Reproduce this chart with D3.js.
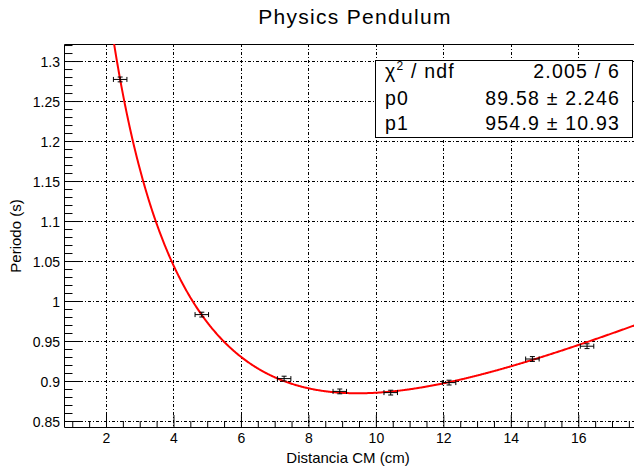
<!DOCTYPE html>
<html>
<head>
<meta charset="utf-8">
<script src="https://cdn.jsdelivr.net/npm/d3@7"></script>
<style>
  body { margin: 0; background: #fff; }
  text { font-family: "Liberation Sans", Arial, sans-serif; fill: #000; }
</style>
</head>
<body>
<div id="chart"></div>
<script>
var svgWidth = 634;
var svgHeight = 467;

// measured data points (distance from CM, period) with errors
var distCM = [2.42, 4.84, 7.28, 8.93, 10.44, 12.17, 14.64, 16.26];
var period = [1.277, 0.983, 0.903, 0.887, 0.8855, 0.898, 0.9275, 0.9435];
var distErr = [0.2, 0.2, 0.2, 0.2, 0.2, 0.2, 0.2, 0.2];
var periodErr = [0.003, 0.003, 0.003, 0.003, 0.003, 0.003, 0.003, 0.003];

// fit results shown in the stats box
var p0 = 89.58;
var p1 = 954.9;
var statNames = ["p0", "p1"];
var statValues = ["89.58 \u00b1 2.246", "954.9 \u00b1 10.93"];
var chiText = "2.005 / 6";

var xTicks = [2, 4, 6, 8, 10, 12, 14, 16];
var yTicks = [0.85, 0.9, 0.95, 1, 1.05, 1.1, 1.15, 1.2, 1.25, 1.3];

var plot = { left: 64, top: 44, right: 639, bottom: 427 };

var svg = d3.select("#chart")
    .append("svg")
    .attr("width", svgWidth)
    .attr("height", svgHeight);

var xScale = d3.scaleLinear()
    .domain([0.755, 17.8])
    .range([plot.left, plot.right]);
var yScale = d3.scaleLinear()
    .domain([0.8425, 1.3213])
    .range([plot.bottom, plot.top]);

svg.append("defs").append("clipPath")
    .attr("id", "clip")
    .append("rect")
    .attr("x", plot.left)
    .attr("y", plot.top)
    .attr("width", plot.right - plot.left)
    .attr("height", plot.bottom - plot.top);

// grid
var grid = svg.append("g");
grid.selectAll(".gx").data(xTicks).enter().append("line")
    .attr("x1", d => Math.round(xScale(d)) + 0.5)
    .attr("x2", d => Math.round(xScale(d)) + 0.5)
    .attr("y1", plot.top)
    .attr("y2", plot.bottom)
    .attr("stroke", "#000")
    .attr("stroke-dasharray", "3,2,1,2");
grid.selectAll(".gy").data(yTicks).enter().append("line")
    .attr("x1", plot.left)
    .attr("x2", plot.right)
    .attr("y1", d => Math.round(yScale(d)) + 0.5)
    .attr("y2", d => Math.round(yScale(d)) + 0.5)
    .attr("stroke", "#000")
    .attr("stroke-dasharray", "3,2,1,2");

// axes (ROOT style: ticks pointing into the frame)
var xMinor = d3.range(1, 17.6, 0.5).filter(v => v % 2 !== 0);
var yMinor = d3.range(0.85, 1.32, 0.01).filter(v => Math.abs(v * 20 - Math.round(v * 20)) > 0.01);

var bottomAxis = d3.axisBottom(xScale)
    .tickValues(xTicks)
    .tickSize(-12)
    .tickPadding(16)
    .tickFormat(d3.format("d"));
var bottomMinor = d3.axisBottom(xScale)
    .tickValues(xMinor)
    .tickSize(-6)
    .tickFormat("");
var leftAxis = d3.axisLeft(yScale)
    .tickValues(yTicks)
    .tickSize(-17)
    .tickPadding(4)
    .tickFormat(d => String(+d.toFixed(2)));
var leftMinor = d3.axisLeft(yScale)
    .tickValues(yMinor)
    .tickSize(-8.5)
    .tickFormat("");

[bottomMinor, bottomAxis].forEach(function (ax) {
    var g = svg.append("g")
        .attr("transform", `translate(0,${plot.bottom})`)
        .call(ax);
    g.select(".domain").remove();
    g.selectAll("text").attr("font-size", "14px").attr("font-family", "Liberation Sans, Arial, sans-serif").attr("dy", "0");
    g.selectAll("line").attr("stroke", "#000");
});
[leftMinor, leftAxis].forEach(function (ax) {
    var g = svg.append("g")
        .attr("transform", `translate(${plot.left},0)`)
        .call(ax);
    g.select(".domain").remove();
    g.selectAll("text").attr("font-size", "14px").attr("font-family", "Liberation Sans, Arial, sans-serif").attr("dy", "0.36em");
    g.selectAll("line").attr("stroke", "#000");
});

// frame
svg.append("path")
    .attr("d", `M${plot.right},${plot.top + 0.5}H${plot.left + 0.5}V${plot.bottom + 0.5}H${plot.right}`)
    .attr("fill", "none")
    .attr("stroke", "#000");

// fit curve T(d) = 2*pi*sqrt((p0 + d^2) / (p1 * d))
var fitX = d3.range(2.0, 17.81, 0.02);
var line = d3.line()
    .x(d => xScale(d))
    .y(d => yScale(2 * Math.PI * Math.sqrt((p0 + d * d) / (p1 * d))));
svg.append("path")
    .datum(fitX)
    .attr("clip-path", "url(#clip)")
    .attr("d", line)
    .attr("fill", "none")
    .attr("stroke", "#ff0000")
    .attr("stroke-width", 2);

// error bars
var bars = svg.append("g").attr("stroke", "#000").attr("stroke-width", 1);
distCM.forEach(function (x, i) {
    var cx = xScale(x), cy = yScale(period[i]);
    var x0 = xScale(x - distErr[i]), x1 = xScale(x + distErr[i]);
    var y0 = yScale(period[i] - periodErr[i]), y1 = yScale(period[i] + periodErr[i]);
    bars.append("line").attr("x1", x0).attr("x2", x1).attr("y1", cy).attr("y2", cy);
    bars.append("line").attr("x1", x0).attr("x2", x0).attr("y1", cy - 2.5).attr("y2", cy + 2.5);
    bars.append("line").attr("x1", x1).attr("x2", x1).attr("y1", cy - 2.5).attr("y2", cy + 2.5);
    bars.append("line").attr("x1", cx).attr("x2", cx).attr("y1", y0).attr("y2", y1);
    bars.append("line").attr("x1", cx - 2.5).attr("x2", cx + 2.5).attr("y1", y0).attr("y2", y0);
    bars.append("line").attr("x1", cx - 2.5).attr("x2", cx + 2.5).attr("y1", y1).attr("y2", y1);
});

// titles
svg.append("text")
    .attr("x", 355)
    .attr("y", 24)
    .attr("text-anchor", "middle")
    .attr("font-size", "21px")
    .attr("letter-spacing", "1.3px")
    .text("Physics Pendulum");

svg.append("text")
    .attr("x", 348)
    .attr("y", 463)
    .attr("text-anchor", "middle")
    .attr("font-size", "15px")
    .text("Distancia CM (cm)");

svg.append("text")
    .attr("transform", "translate(21, 236) rotate(-90)")
    .attr("text-anchor", "middle")
    .attr("font-size", "15px")
    .text("Periodo (s)");

// stats box
var stats = svg.append("g");
stats.append("rect")
    .attr("x", 375.5)
    .attr("y", 60.5)
    .attr("width", 257)
    .attr("height", 77)
    .attr("fill", "#fff")
    .attr("stroke", "#000");

var chi = stats.append("text")
    .attr("x", 385)
    .attr("y", 78)
    .attr("font-size", "19.5px")
    .attr("letter-spacing", "1.2px");
chi.append("tspan").text("\u03c7");
chi.append("tspan").attr("dy", -8).attr("font-size", "12px").text("2");
chi.append("tspan").attr("dy", 8).text(" / ndf");

stats.append("text")
    .attr("x", 620)
    .attr("y", 78)
    .attr("text-anchor", "end")
    .attr("font-size", "19.5px")
    .attr("letter-spacing", "1.2px")
    .text(chiText);

statNames.forEach(function (name, i) {
    var yPos = 105 + i * 25;
    stats.append("text")
        .attr("x", 385)
        .attr("y", yPos)
        .attr("font-size", "19.5px")
        .attr("letter-spacing", "1.2px")
        .text(name);
    stats.append("text")
        .attr("x", 620)
        .attr("y", yPos)
        .attr("text-anchor", "end")
        .attr("font-size", "19.5px")
        .attr("letter-spacing", "1.2px")
        .text(statValues[i]);
});
</script>
</body>
</html>
